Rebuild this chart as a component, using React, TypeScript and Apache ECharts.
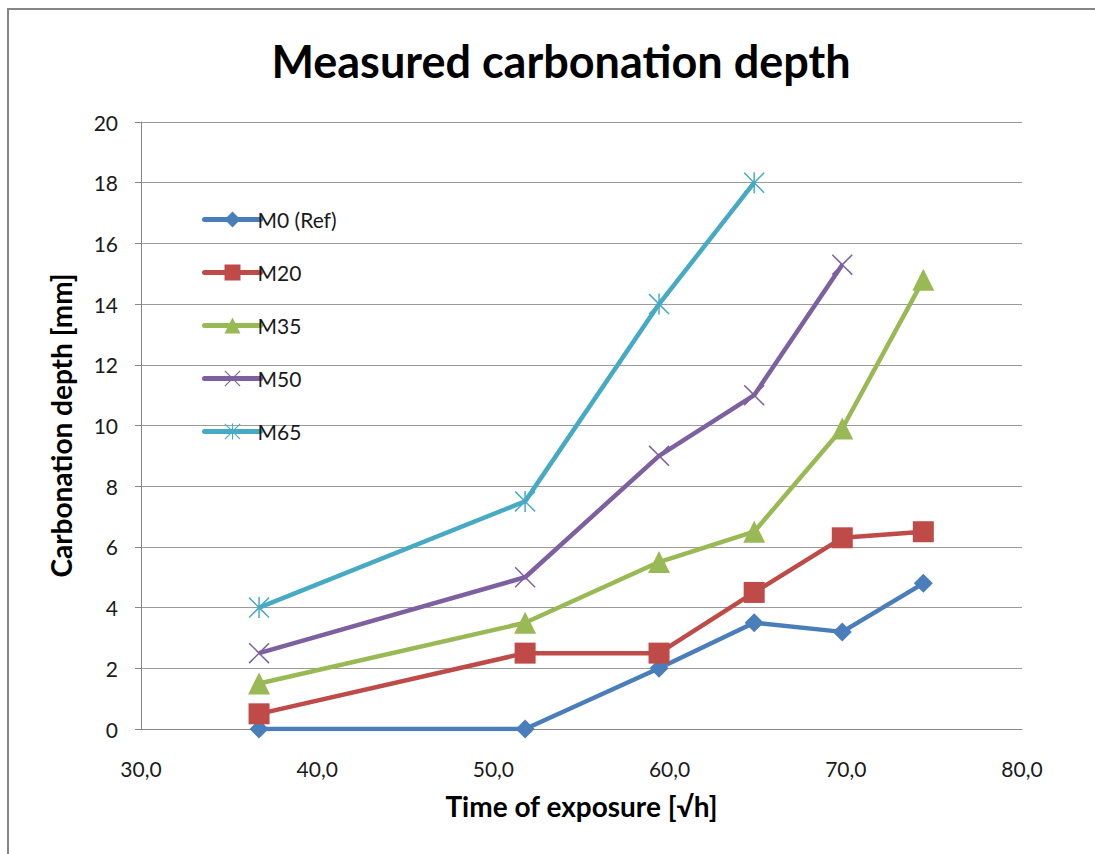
import React, { useEffect, useRef } from "react";
import * as echarts from "echarts";

const seriesNames = ["M0 (Ref)", "M20", "M35", "M50", "M65"];
const timeSqrtH = [36.7, 51.8, 59.4, 64.8, 69.8, 74.4];
const m0 = [0, 0, 2, 3.5, 3.2, 4.8];
const m20 = [0.5, 2.5, 2.5, 4.5, 6.3, 6.5];
const m35 = [1.5, 3.5, 5.5, 6.5, 9.9, 14.8];
const m50 = [2.5, 5, 9, 11, 15.3];
const m65 = [4, 7.5, 14, 18];
const colors = ["#4a7ebb", "#be4b48", "#98b954", "#7d60a0", "#46aac5"];

const xPath = "path://M1,0 L10,9 L19,0 L20,1 L11,10 L20,19 L19,20 L10,11 L1,20 L0,19 L9,10 L0,1 Z";
const starPath =
  "path://M1,0 L10,9 L19,0 L20,1 L11,10 L20,19 L19,20 L10,11 L1,20 L0,19 L9,10 L0,1 Z M9.3,0 L10.7,0 L10.7,20 L9.3,20 Z";

export default function App() {
  const ref = useRef<HTMLDivElement>(null);
  useEffect(() => {
    if (!ref.current) return;
    const chart = echarts.init(ref.current, null, { renderer: "svg" });
    const all = [m0, m20, m35, m50, m65];
    const symbols = ["diamond", "rect", "triangle", xPath, starPath];
    const sizes = [19, 21, 22, 21, 21];
    const font = "Lato, 'Open Sans', sans-serif";
    chart.setOption({
      animation: false,
      backgroundColor: "#ffffff",
      title: {
        text: "Measured carbonation depth",
        left: 556,
        top: 33,
        textAlign: "center",
        textStyle: { fontFamily: font, fontSize: 45, fontWeight: "bold", color: "#000" },
      },
      graphic: [
        {
          type: "polyline",
          shape: { points: [[8, 854], [8, 9], [1095, 9]] },
          style: { stroke: "#858585", lineWidth: 2, fill: "none" },
        },
      ],
      legend: {
        orient: "vertical",
        left: 197,
        top: 204,
        itemWidth: 56,
        itemHeight: 20,
        itemGap: 32,
        lineStyle: { width: 5, cap: "round" },
        textStyle: { fontFamily: font, fontSize: 21, color: "#1a1a1a", padding: [0, 0, 0, -8] },
        data: seriesNames,
      },
      grid: { left: 141, right: 73, top: 122, bottom: 125 },
      xAxis: {
        type: "value",
        min: 30,
        max: 80,
        interval: 10,
        name: "Time of exposure [√h]",
        nameLocation: "middle",
        nameGap: 63,
        nameTextStyle: { fontFamily: font, fontSize: 28, fontWeight: "bold", color: "#000" },
        axisLine: { show: true, lineStyle: { color: "#868686", width: 1 } },
        axisTick: { show: false },
        splitLine: { show: false },
        axisLabel: {
          fontFamily: font,
          fontSize: 21,
          color: "#1a1a1a",
          margin: 29,
          formatter: (v: number) => v.toFixed(1).replace(".", ","),
        },
      },
      yAxis: {
        type: "value",
        min: 0,
        max: 20,
        interval: 2,
        name: "Carbonation depth [mm]",
        nameLocation: "middle",
        nameGap: 66,
        nameTextStyle: { fontFamily: font, fontSize: 28, fontWeight: "bold", color: "#000" },
        axisLine: { show: true, lineStyle: { color: "#868686", width: 1 } },
        axisTick: { show: true, inside: false, length: 6, lineStyle: { color: "#868686" } },
        splitLine: { show: true, lineStyle: { color: "#9a9a9a", width: 1 } },
        axisLabel: { fontFamily: font, fontSize: 21, color: "#1a1a1a", margin: 23 },
      },
      series: all.map((vals, i) => ({
        name: seriesNames[i],
        type: "line",
        data: vals.map((v, j) => [timeSqrtH[j], v]),
        symbol: symbols[i],
        symbolSize: sizes[i],
        showAllSymbol: true,
        lineStyle: { color: colors[i], width: 4.5 },
        itemStyle: { color: colors[i] },
        z: 2 + i,
      })),
    });
    return () => chart.dispose();
  }, []);
  return (
    <div
      ref={ref}
      style={{ position: "absolute", left: 0, top: 0, width: 1095, height: 854 }}
    />
  );
}
